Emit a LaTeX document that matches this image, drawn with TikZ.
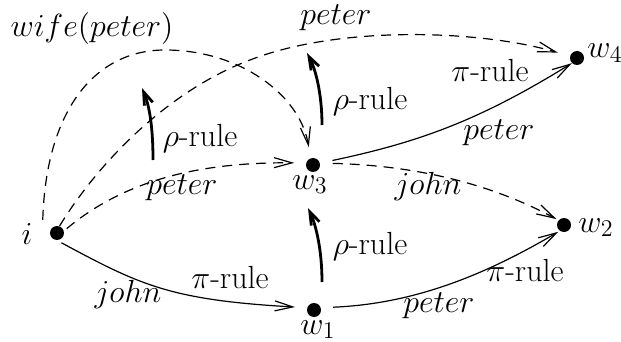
\documentclass[tikz,border=0pt]{standalone}
\IfFileExists{fix-cm.sty}{\usepackage{fix-cm}}{}
\usetikzlibrary{arrows.meta}
\DeclareMathSizes{16}{16}{12}{9}
\begin{document}
\begin{tikzpicture}[x=0.5pt,y=-0.5pt,
  dot/.style={circle,fill=black,inner sep=0pt,minimum size=7pt},
  lbl/.style={font=\fontsize{16}{19}\selectfont,inner sep=0pt,anchor=base},
  arr/.style={line width=0.6pt,-{Straight Barb[length=9pt,width=5pt]}},
  darr/.style={arr,dash pattern=on 5pt off 3.5pt},
  rho/.style={line width=1.4pt,-{Straight Barb[length=6.5pt,width=4.5pt]}}]
\useasboundingbox (0,0) rectangle (621,342);
% states
\node[dot] (i)  at (57,233) {};
\node[dot] (w1) at (314,310) {};
\node[dot] (w3) at (313,165) {};
\node[dot] (w2) at (564,225) {};
\node[dot] (w4) at (577,58) {};
% state names
\node[lbl] (ti) at (27,244) {$i$};
\node[lbl,anchor=base west] (tw1) at (300,334) {$w_1$};
\node[lbl,anchor=base west] (tw3) at (292,189) {$w_3$};
\node[lbl,anchor=base west] (tw2) at (578,232) {$w_2$};
\node[lbl,anchor=base west] (tw4) at (587,58) {$w_4$};
% edge labels
\node[lbl] (l7) at (92,37) {$wife(peter)$};
\node[lbl] (l6) at (336,25) {$peter$};
\node[lbl] (l3) at (182,194) {$peter$};
\node[lbl] (l4) at (428,194) {$john$};
\node[lbl] (l1) at (128,302) {$john$};
\node[lbl] (l2) at (439,312) {$peter$};
\node[lbl] (l5) at (499,140) {$peter$};
\node[lbl] (p1) at (230,288) {$\pi$-rule};
\node[lbl] (p2) at (525,281) {$\pi$-rule};
\node[lbl] (p5) at (490,82) {$\pi$-rule};
\node[lbl] (q1) at (200,147) {$\rho$-rule};
\node[lbl] (q2) at (370,110) {$\rho$-rule};
\node[lbl] (q3) at (370,254) {$\rho$-rule};
% transitions
\draw[arr,shorten <=2.5pt,shorten >=6pt] (i.-90) .. controls (140,285) and (170,300) .. (w1.162);
\draw[arr,shorten <=6pt,shorten >=0.8pt] (w1.18) .. controls (410,304) and (480,278) .. (w2.234);
\draw[darr,shorten <=1.7pt,shorten >=5.8pt] (i.17) .. controls (125,180) and (200,162) .. (w3.164);
\draw[darr,shorten <=6.3pt,shorten >=1.1pt] (w3.15) .. controls (400,165) and (480,178) .. (w2.139);
\draw[arr,shorten <=6.3pt] (w3.15) .. controls (420,142) and (480,120) .. (w4.225);
\coordinate (m6) at (250,60);
\draw[darr,shorten >=6.3pt] (i.70) .. controls (100,160) and (170,90) .. (m6) .. controls (340,25) and (480,30) .. (w4.165);
\coordinate (m7) at (165,50);
\draw[darr,shorten >=5.5pt] ([xshift=-4.5pt,yshift=4pt]i.135) .. controls (46,110) and (95,50) .. (m7) .. controls (240,50) and (300,95) .. (w3.109);
% rho-rule arrows
\coordinate (r1a) at (153,160); \coordinate (r1b) at (142,88);
\draw[rho] (r1a) .. controls (153,125) and (149,105) .. (r1b);
\coordinate (r2a) at (322,125); \coordinate (r2b) at (307,53);
\draw[rho] (r2a) .. controls (322,95) and (316,70) .. (r2b);
\coordinate (r3a) at (322,282); \coordinate (r3b) at (308,208);
\draw[rho] (r3a) .. controls (322,250) and (316,225) .. (r3b);
\end{tikzpicture}
\end{document}
